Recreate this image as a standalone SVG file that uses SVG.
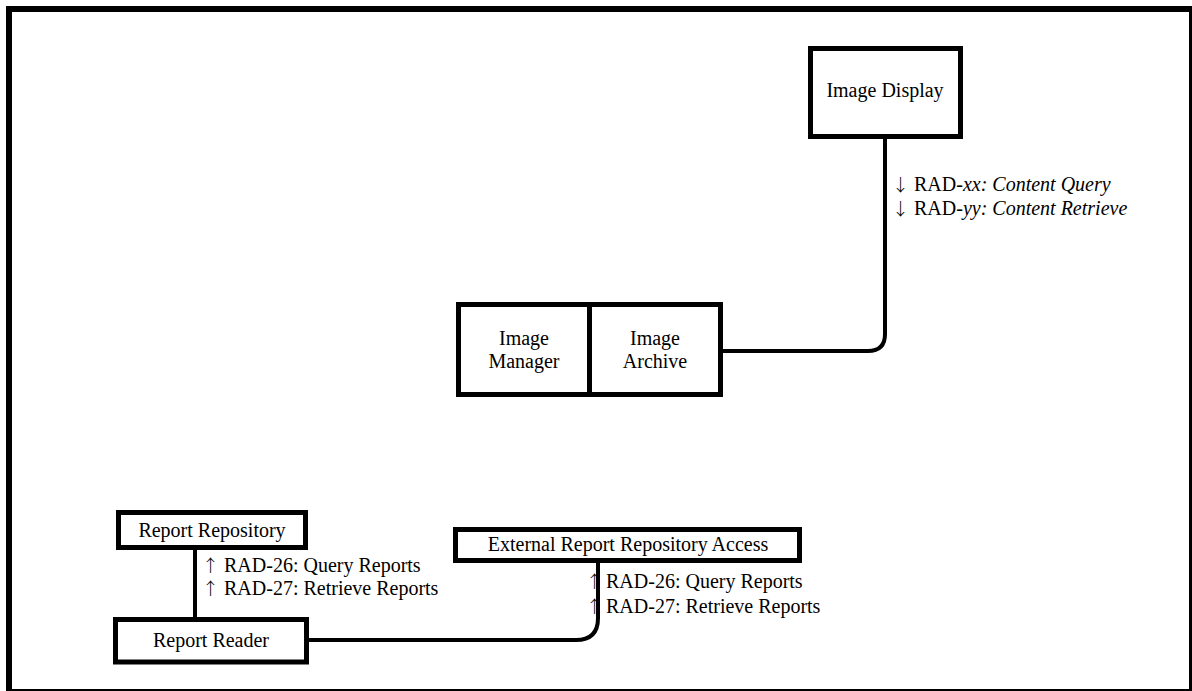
<svg xmlns="http://www.w3.org/2000/svg" width="1192" height="691" viewBox="0 0 1192 691">
<style>
.box{fill:#fff;stroke:#000;stroke-width:5}
.t{font-family:"Liberation Serif","Times New Roman",serif;font-size:20px;fill:#000}
.c{text-anchor:middle}
.a{font-family:"Noto Sans CJK JP","DejaVu Serif",sans-serif;font-weight:300;font-size:17px}
.conn{fill:none;stroke:#000;stroke-width:4}
</style>
<rect x="9" y="9" width="1183" height="683" fill="#fff" stroke="#000" stroke-width="6"/>
<g id="connectors">
<path class="conn" d="M723 351 H868 Q885 351 885 334 V139"/>
<path class="conn" d="M195 550 V617"/>
<path class="conn" d="M309 640 H576 Q598 640 598 618 V563"/>
</g>
<g id="image-display">
<rect class="box" x="810.5" y="48.5" width="150" height="88"/>
<text class="t c" x="885" y="97">Image Display</text>
</g>
<g id="image-manager">
<rect class="box" x="458.5" y="304.5" width="131" height="90"/>
<text class="t c" x="524" y="345">Image</text>
<text class="t c" x="524" y="368">Manager</text>
</g>
<g id="image-archive">
<rect class="box" x="589.5" y="304.5" width="131" height="90"/>
<text class="t c" x="655" y="345">Image</text>
<text class="t c" x="655" y="368">Archive</text>
</g>
<g id="report-repository">
<rect class="box" x="118.5" y="512.5" width="187" height="35"/>
<text class="t c" x="212" y="537">Report Repository</text>
</g>
<g id="report-reader">
<rect class="box" x="115.5" y="619.5" width="191" height="42.5"/>
<text class="t c" x="211" y="647">Report Reader</text>
</g>
<g id="external-report-repository-access">
<rect class="box" x="455.5" y="529.5" width="344" height="31"/>
<text class="t c" x="628" y="551">External Report Repository Access</text>
</g>
<g id="labels">
<text class="t" x="892" y="191"><tspan class="a">↓</tspan> RAD-<tspan font-style="italic">xx: Content Query</tspan></text>
<text class="t" x="892" y="215"><tspan class="a">↓</tspan> RAD-<tspan font-style="italic">yy: Content Retrieve</tspan></text>
<text class="t" x="202" y="572"><tspan class="a">↑</tspan> RAD-26: Query Reports</text>
<text class="t" x="202" y="595"><tspan class="a">↑</tspan> RAD-27: Retrieve Reports</text>
<text class="t" x="586" y="588"><tspan class="a">↑</tspan><tspan dx="3">RAD-26: Query Reports</tspan></text>
<text class="t" x="586" y="613"><tspan class="a">↑</tspan><tspan dx="3">RAD-27: Retrieve Reports</tspan></text>
</g>
</svg>
